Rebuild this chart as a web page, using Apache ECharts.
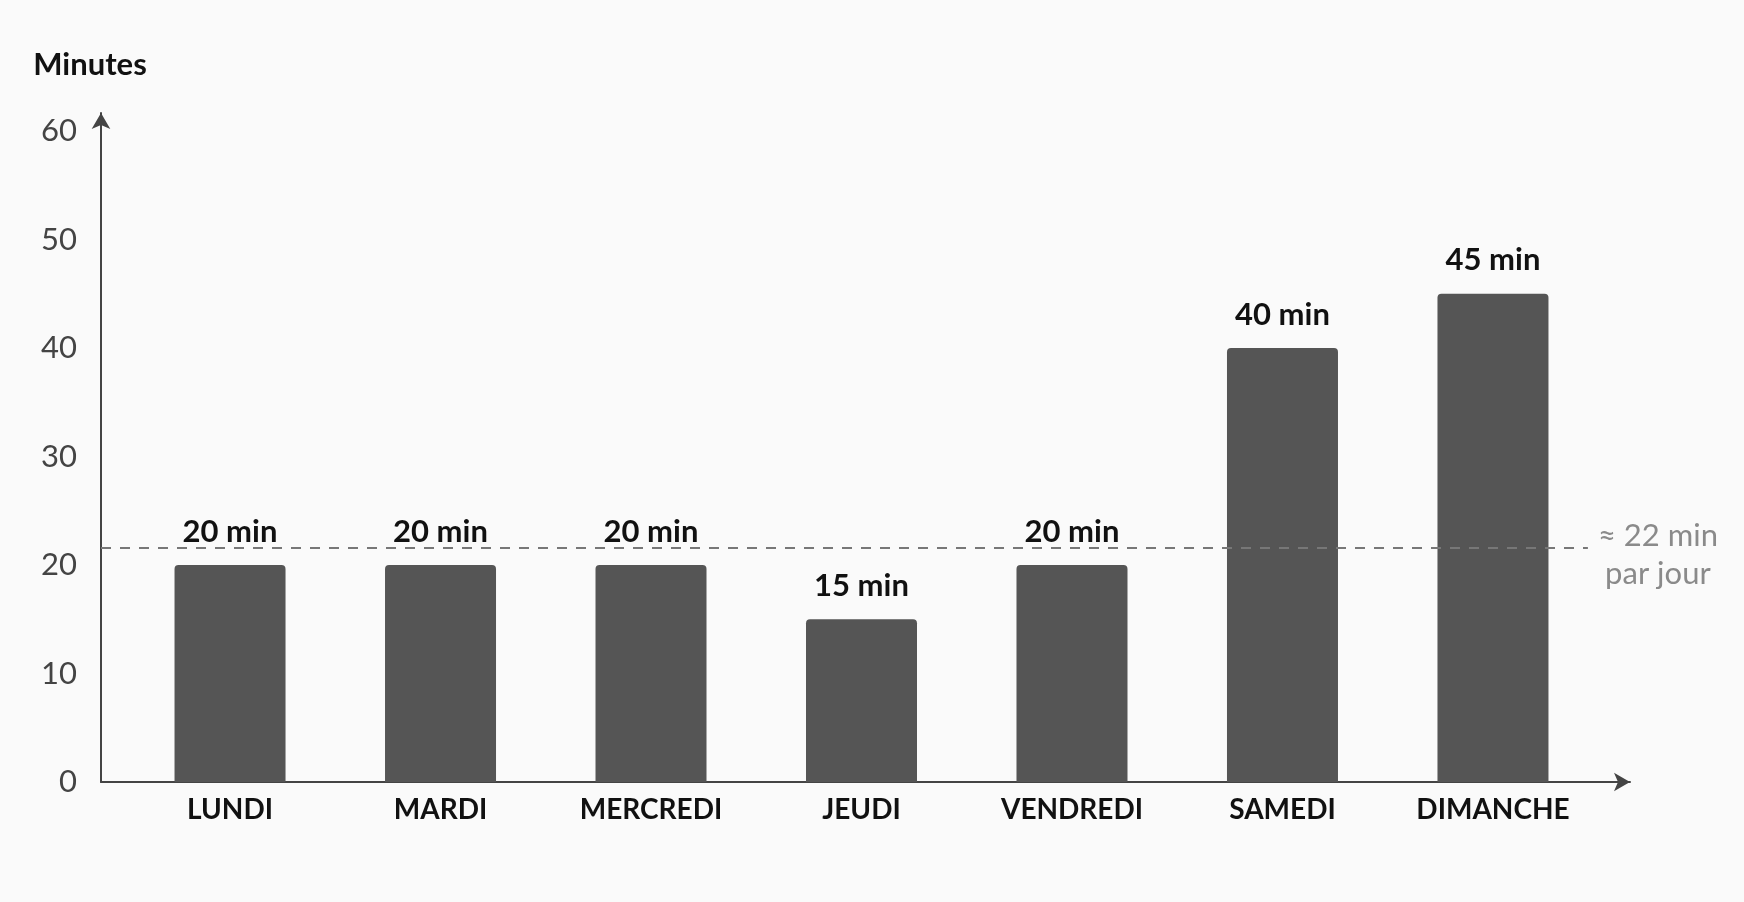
<!DOCTYPE html>
<html>
<head>
<meta charset="utf-8">
<script src="https://cdn.jsdelivr.net/npm/echarts@6/dist/echarts.min.js"></script>
<style>
  html, body { margin: 0; padding: 0; background: #fafafa; }
  #container { width: 1744px; height: 902px; }
</style>
</head>
<body>
<div id="container"></div>
<script>
var dom = document.getElementById('container');
var myChart = echarts.init(dom);

// jours et minutes par jour
let days = ['LUNDI', 'MARDI', 'MERCREDI', 'JEUDI', 'VENDREDI', 'SAMEDI', 'DIMANCHE'];
let minutes = [20, 20, 20, 15, 20, 40, 45];
let yTicks = [0, 10, 20, 30, 40, 50, 60];
let avgLine = 21.6;
let avgLabel = '≈ 22 min\npar jour';

let barData = minutes.map(function (v, i) { return [i, v]; });

option = {
    backgroundColor: '#fafafa',
    textStyle: { fontFamily: 'Lato' },
    grid: {
        left: 101,
        right: 114,
        top: 113,
        bottom: 120
    },
    xAxis: {
        type: 'value',
        min: -0.613,
        max: 6.651,
        splitLine: { show: false },
        axisTick: { show: false },
        axisLine: {
            show: true,
            onZero: false,
            symbol: ['none', 'arrow'],
            symbolSize: [14, 16],
            lineStyle: { color: '#444', width: 2 }
        },
        axisLabel: {
            customValues: days.map(function (d, i) { return i; }),
            formatter: function (v) { return days[v]; },
            color: '#111',
            fontWeight: 'bold',
            fontSize: 28,
            margin: 14
        }
    },
    yAxis: {
        type: 'value',
        min: 0,
        max: 61.66,
        name: 'Minutes',
        nameLocation: 'end',
        nameGap: 33,
        nameTextStyle: {
            color: '#111',
            fontWeight: 'bold',
            fontSize: 31,
            align: 'center',
            padding: [0, 22, 0, 0]
        },
        splitLine: { show: false },
        axisTick: { show: false },
        axisLine: {
            show: true,
            onZero: false,
            symbol: ['none', 'arrow'],
            symbolSize: [14, 16],
            lineStyle: { color: '#444', width: 2 }
        },
        axisLabel: {
            customValues: yTicks,
            color: '#444',
            fontSize: 31,
            margin: 24
        }
    },
    series: [{
        type: 'bar',
        data: barData,
        barWidth: 111,
        itemStyle: {
            color: '#555555',
            borderRadius: [4, 4, 0, 0]
        },
        label: {
            show: true,
            position: 'top',
            distance: 18,
            formatter: function (p) { return p.value[1] + ' min'; },
            color: '#111',
            fontWeight: 'bold',
            fontSize: 31
        },
        markLine: {
            silent: true,
            symbol: ['none', 'none'],
            lineStyle: {
                color: '#777',
                width: 2,
                type: [10, 9]
            },
            label: {
                show: true,
                position: 'end',
                distance: 70,
                align: 'center',
                offset: [0, 7],
                formatter: avgLabel,
                color: '#8a8a8a',
                fontSize: 31,
                lineHeight: 38
            },
            data: [[
                { coord: [-0.613, avgLine] },
                { coord: [6.451, avgLine] }
            ]]
        }
    }]
};
myChart.setOption(option);

window.addEventListener('resize', function () {
    myChart.resize();
});
</script>
</body>
</html>
